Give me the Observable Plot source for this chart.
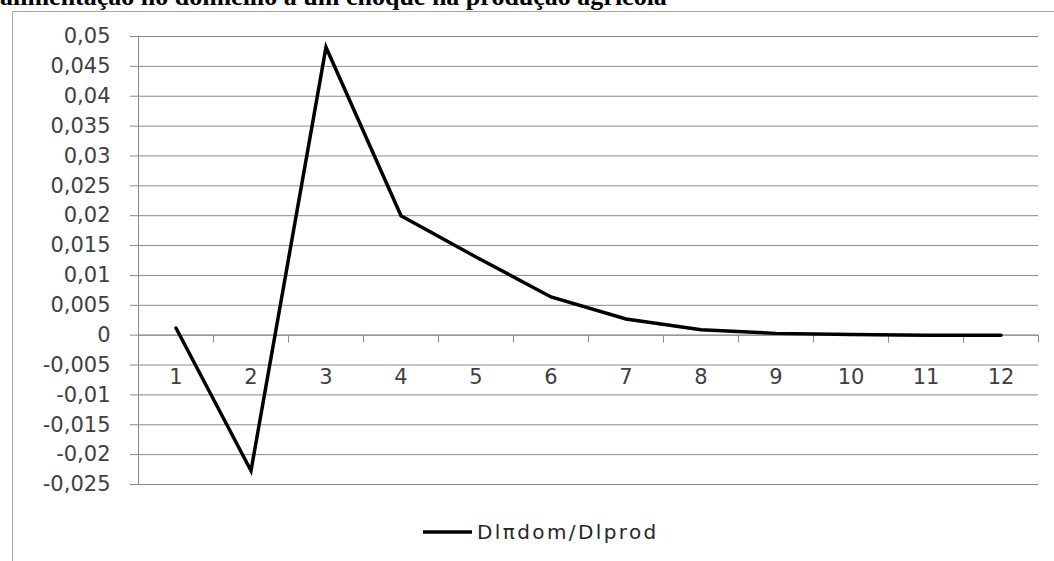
<!DOCTYPE html>
<html><head><meta charset="utf-8">
<script src="https://cdn.jsdelivr.net/npm/d3@7"></script>
<script src="https://cdn.jsdelivr.net/npm/@observablehq/plot@0.6"></script>
<style>
html,body{margin:0;padding:0;background:#fff;}
body{width:1054px;height:561px;overflow:hidden;position:relative;}
#frame{position:absolute;left:12px;top:11px;width:1100px;height:700px;border-left:1.5px solid #a8a8a8;border-top:1.5px solid #a8a8a8;}
#chart{position:absolute;left:0;top:0;}
#overlay{position:absolute;left:0;top:0;}
</style>
</head><body>
<div id="frame"></div>
<div id="chart"></div>
<svg id="overlay" width="1054" height="561">
  <text x="0" y="5" font-family="Liberation Serif" font-weight="bold" font-size="26" fill="#000">alimentação no domicílio a um choque na produção agrícola</text>
  <line x1="423" x2="472" y1="532" y2="532" stroke="#000" stroke-width="3.5"/>
  <text x="477" y="539" font-family="DejaVu Sans" font-size="20" letter-spacing="2.4" fill="#262626">Dlπdom/Dlprod</text>
</svg>
<script>
const periods = [1, 2, 3, 4, 5, 6, 7, 8, 9, 10, 11, 12];
const values = [0.0012, -0.0227, 0.0482, 0.0200, 0.0131, 0.0064, 0.0027, 0.0009, 0.0003, 0.0001, 0.0000, 0.0000];
const yTicks = [-0.025, -0.02, -0.015, -0.01, -0.005, 0, 0.005, 0.01, 0.015, 0.02, 0.025, 0.03, 0.035, 0.04, 0.045, 0.05];
const seriesName = "Dlπdom/Dlprod";

const data = periods.map((p, i) => ({period: p, value: values[i]}));
const boundaries = periods.map(p => p - 0.5).concat([periods[periods.length - 1] + 0.5]);
const fmt = d => String(d).replace(".", ",");
const axisGray = "#8a8a8a";

const chart = Plot.plot({
  width: 1054,
  height: 561,
  marginLeft: 138,
  marginRight: 16,
  marginTop: 36,
  marginBottom: 77,
  x: {domain: [0.5, 12.5], axis: null},
  y: {domain: [-0.025, 0.05], axis: null},
  style: {fontFamily: "DejaVu Sans", fontSize: "21px", color: "#404040", background: "transparent"},
  marks: [
    Plot.gridY(yTicks, {stroke: axisGray, strokeOpacity: 1}),
    Plot.axisY(yTicks, {label: null, tickSize: 8, tickPadding: 20, tickFormat: fmt, stroke: axisGray, fill: "#404040", fontSize: 21}),
    Plot.ruleX([0.5], {stroke: axisGray}),
    Plot.ruleY([0], {stroke: axisGray}),
    Plot.ruleX(boundaries, {x: d => d, y1: () => 0, y2: () => 0, insetBottom: -8, stroke: axisGray}),
    Plot.text(periods, {x: d => d, y: () => 0, dy: 42, text: d => String(d), fill: "#404040", fontSize: 21}),
    Plot.line(data, {x: "period", y: "value", stroke: "#000", strokeWidth: 3.5, strokeLinejoin: "miter", strokeMiterlimit: 10})
  ]
});
document.getElementById("chart").appendChild(chart);
</script>
</body></html>
